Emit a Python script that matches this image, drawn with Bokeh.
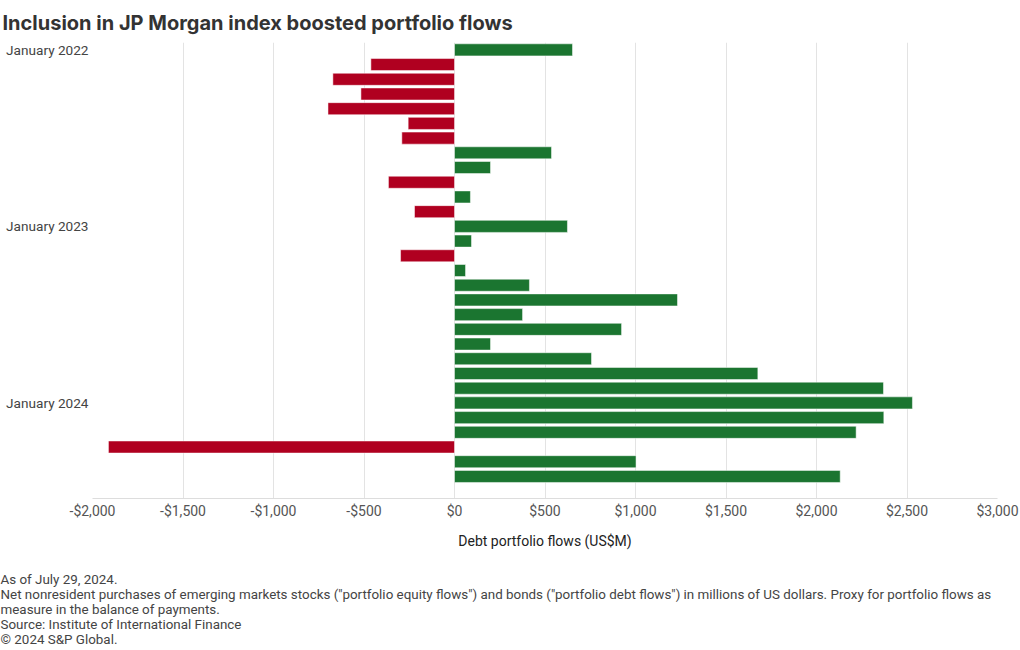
from bokeh.plotting import figure
from bokeh.models import Range1d, FixedTicker, Title, ColumnDataSource
from bokeh.embed import file_html
from bokeh.resources import INLINE

months = ["Jan 2022", "Feb 2022", "Mar 2022", "Apr 2022", "May 2022", "Jun 2022",
          "Jul 2022", "Aug 2022", "Sep 2022", "Oct 2022", "Nov 2022", "Dec 2022",
          "Jan 2023", "Feb 2023", "Mar 2023", "Apr 2023", "May 2023", "Jun 2023",
          "Jul 2023", "Aug 2023", "Sep 2023", "Oct 2023", "Nov 2023", "Dec 2023",
          "Jan 2024", "Feb 2024", "Mar 2024", "Apr 2024", "May 2024", "Jun 2024"]
flows = [652, -462, -672, -517, -699, -256, -291, 536, 199, -365, 88, -221,
         624, 94, -298, 61, 414, 1232, 376, 923, 199, 757, 1676, 2370,
         2530, 2372, 2219, -1912, 1003, 2131]
y_tick_index = [0, 12, 24]
y_tick_labels = ["January 2022", "January 2023", "January 2024"]
x_ticks = [-2000, -1500, -1000, -500, 0, 500, 1000, 1500, 2000, 2500, 3000]
x_tick_labels = ["-$2,000", "-$1,500", "-$1,000", "-$500", "$0", "$500",
                 "$1,000", "$1,500", "$2,000", "$2,500", "$3,000"]

title_text = "Inclusion in JP Morgan index boosted portfolio flows"
x_axis_label = "Debt portfolio flows (US$M)"
notes = ["As of July 29, 2024.",
         "Net nonresident purchases of emerging markets stocks (\"portfolio equity flows\") and bonds (\"portfolio debt flows\") in millions of US dollars. Proxy for portfolio flows as",
         "measure in the balance of payments.",
         "Source: Institute of International Finance",
         "\u00a9 2024 S&P Global."]

GREEN = "#1b7530"
RED = "#b00020"

src = ColumnDataSource(dict(
    y=list(range(len(flows))),
    v=flows,
    c=[GREEN if f >= 0 else RED for f in flows],
))

p = figure(output_backend="svg", toolbar_location=None,
           frame_width=905, frame_height=456,
           x_range=Range1d(-2000, 3000), y_range=Range1d(30.5, -0.5),
           min_border_left=92, min_border_right=23, min_border_top=0, min_border_bottom=0)
p.outline_line_color = None
p.background_fill_color = "white"
p.border_fill_color = "white"

p.hbar(y="y", left=0, right="v", height=0.82, color="c", line_color="white",
       line_width=0.5, source=src)

# x axis
p.xaxis.ticker = FixedTicker(ticks=x_ticks)
p.xaxis.major_label_overrides = {t: l for t, l in zip(x_ticks, x_tick_labels)}
p.xaxis.axis_line_color = "#dddddd"
p.xaxis.major_tick_line_color = None
p.xaxis.minor_tick_line_color = None
p.xaxis.major_tick_out = 0
p.xaxis.major_tick_in = 0
p.xaxis.major_label_text_font = "Roboto"
p.xaxis.major_label_text_font_size = "14px"
p.xaxis.major_label_text_color = "#555555"
p.xaxis.major_label_standoff = 4
p.xaxis.axis_label = x_axis_label
p.xaxis.axis_label_text_font = "Roboto"
p.xaxis.axis_label_text_font_style = "normal"
p.xaxis.axis_label_text_font_size = "14px"
p.xaxis.axis_label_text_color = "#222222"
p.xaxis.axis_label_standoff = 11

# y axis
p.yaxis.ticker = FixedTicker(ticks=y_tick_index)
p.yaxis.major_label_overrides = {t: l for t, l in zip(y_tick_index, y_tick_labels)}
p.yaxis.axis_line_color = None
p.yaxis.major_tick_line_color = None
p.yaxis.minor_tick_line_color = None
p.yaxis.major_tick_out = 0
p.yaxis.major_tick_in = 0
p.yaxis.major_label_text_font = "Roboto"
p.yaxis.major_label_text_font_size = "13.6px"
p.yaxis.major_label_text_color = "#444444"
p.yaxis.major_label_standoff = 4

p.xgrid.grid_line_color = "#e3e3e3"
p.ygrid.grid_line_color = None

# title
p.title = Title(text=title_text, align="left", offset=-90, text_font="Inter",
                text_font_style="bold", text_font_size="20px", text_color="#333333",
                standoff=16, text_line_height=0.6)

# spacer then notes below (first added is closest to the axis)
p.add_layout(Title(text=" ", text_font_size="1px", standoff=16), "below")
for i, line in enumerate(notes):
    p.add_layout(Title(text=line, align="left", offset=-92, text_font="Roboto",
                       text_font_style="normal", text_font_size="13.4px",
                       text_color="#444444", standoff=-2,
                       text_line_height=1.0), "below")

open("out.html", "w").write(file_html(p, INLINE))
